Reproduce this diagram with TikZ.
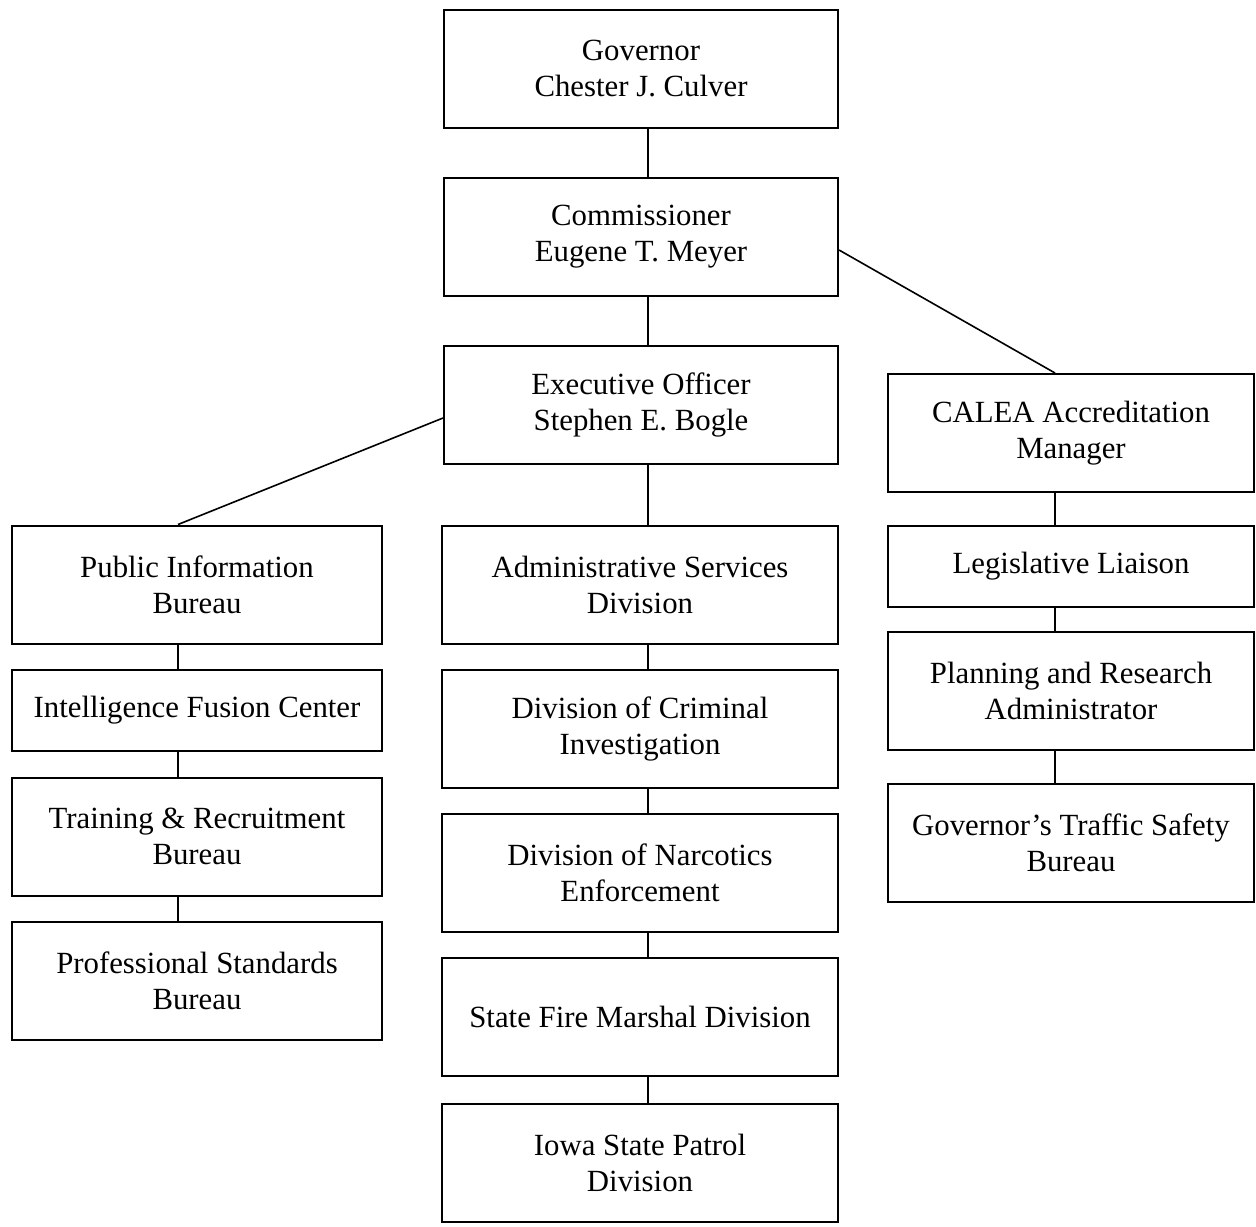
\documentclass[tikz,border=0pt]{standalone}
\usepackage{fontspec}
\setmainfont{Liberation Serif}
\begin{document}
\begin{tikzpicture}[x=0.5pt,y=-0.5pt,
    unitbox/.style={draw,line width=1pt,align=center,inner sep=0pt,
        font=\fontsize{15.4}{18}\selectfont,minimum height=59pt},
    midbox/.style={unitbox,minimum width=198pt},
    leftbox/.style={unitbox,minimum width=185pt},
    rightbox/.style={unitbox,minimum width=183pt},
    link/.style={line width=0.8pt}]
        \useasboundingbox (0,0) rectangle (1256,1226);
        \node[midbox,minimum width=197pt] (gov) at (641,69) {Governor\\Chester J. Culver};
        \node[midbox,minimum width=197pt] (com) at (641,237) {Commissioner\\Eugene T. Meyer};
        \node[midbox,minimum width=197pt] (exo) at (641,405) {Executive Officer\\Stephen E. Bogle};
        \node[rightbox] (calea) at (1071,433) {CALEA Accreditation\\Manager};
        \node[leftbox] (pib) at (197,584.5) {Public Information\\Bureau};
        \node[leftbox,minimum height=40.5pt] (ifc) at (197,710.5) {Intelligence Fusion Center};
        \node[leftbox] (trb) at (197,836.5) {Training \& Recruitment\\Bureau};
        \node[leftbox] (psb) at (197,981) {Professional Standards\\Bureau};
        \node[midbox] (asd) at (640,584.5) {Administrative Services\\Division};
        \node[midbox] (dci) at (640,728.5) {Division of Criminal\\Investigation};
        \node[midbox] (dne) at (640,872.5) {Division of Narcotics\\Enforcement};
        \node[midbox] (sfm) at (640,1017) {State Fire Marshal Division};
        \node[midbox] (isp) at (640,1163) {Iowa State Patrol\\Division};
        \node[rightbox,minimum height=40.5pt] (ll) at (1071,566.5) {Legislative Liaison};
        \node[rightbox] (pra) at (1071,690.5) {Planning and Research\\Administrator};
        \node[rightbox] (gts) at (1071,842.5) {Governor’s Traffic Safety\\Bureau};
        \draw[link] ([xshift=3.5pt]gov.south) -- ([xshift=3.5pt]com.north);
        \draw[link] ([xshift=3.5pt]com.south) -- ([xshift=3.5pt]exo.north);
        \draw[link] ([xshift=3.5pt]exo.south) -- ([xshift=4pt]asd.north);
        \draw[link] ([yshift=-6.5pt]com.east) -- ([xshift=-8pt]calea.north);
        \draw[link] ([yshift=-6.5pt]exo.west) -- ([xshift=-9.5pt]pib.north);
        \draw[link] ([xshift=-9.5pt]pib.south) -- ([xshift=-9.5pt]ifc.north);
        \draw[link] ([xshift=-9.5pt]ifc.south) -- ([xshift=-9.5pt]trb.north);
        \draw[link] ([xshift=-9.5pt]trb.south) -- ([xshift=-9.5pt]psb.north);
        \draw[link] ([xshift=4pt]asd.south) -- ([xshift=4pt]dci.north);
        \draw[link] ([xshift=4pt]dci.south) -- ([xshift=4pt]dne.north);
        \draw[link] ([xshift=4pt]dne.south) -- ([xshift=4pt]sfm.north);
        \draw[link] ([xshift=4pt]sfm.south) -- ([xshift=4pt]isp.north);
        \draw[link] ([xshift=-8pt]calea.south) -- ([xshift=-8pt]ll.north);
        \draw[link] ([xshift=-8pt]ll.south) -- ([xshift=-8pt]pra.north);
        \draw[link] ([xshift=-8pt]pra.south) -- ([xshift=-8pt]gts.north);
    \end{tikzpicture}
\end{document}
